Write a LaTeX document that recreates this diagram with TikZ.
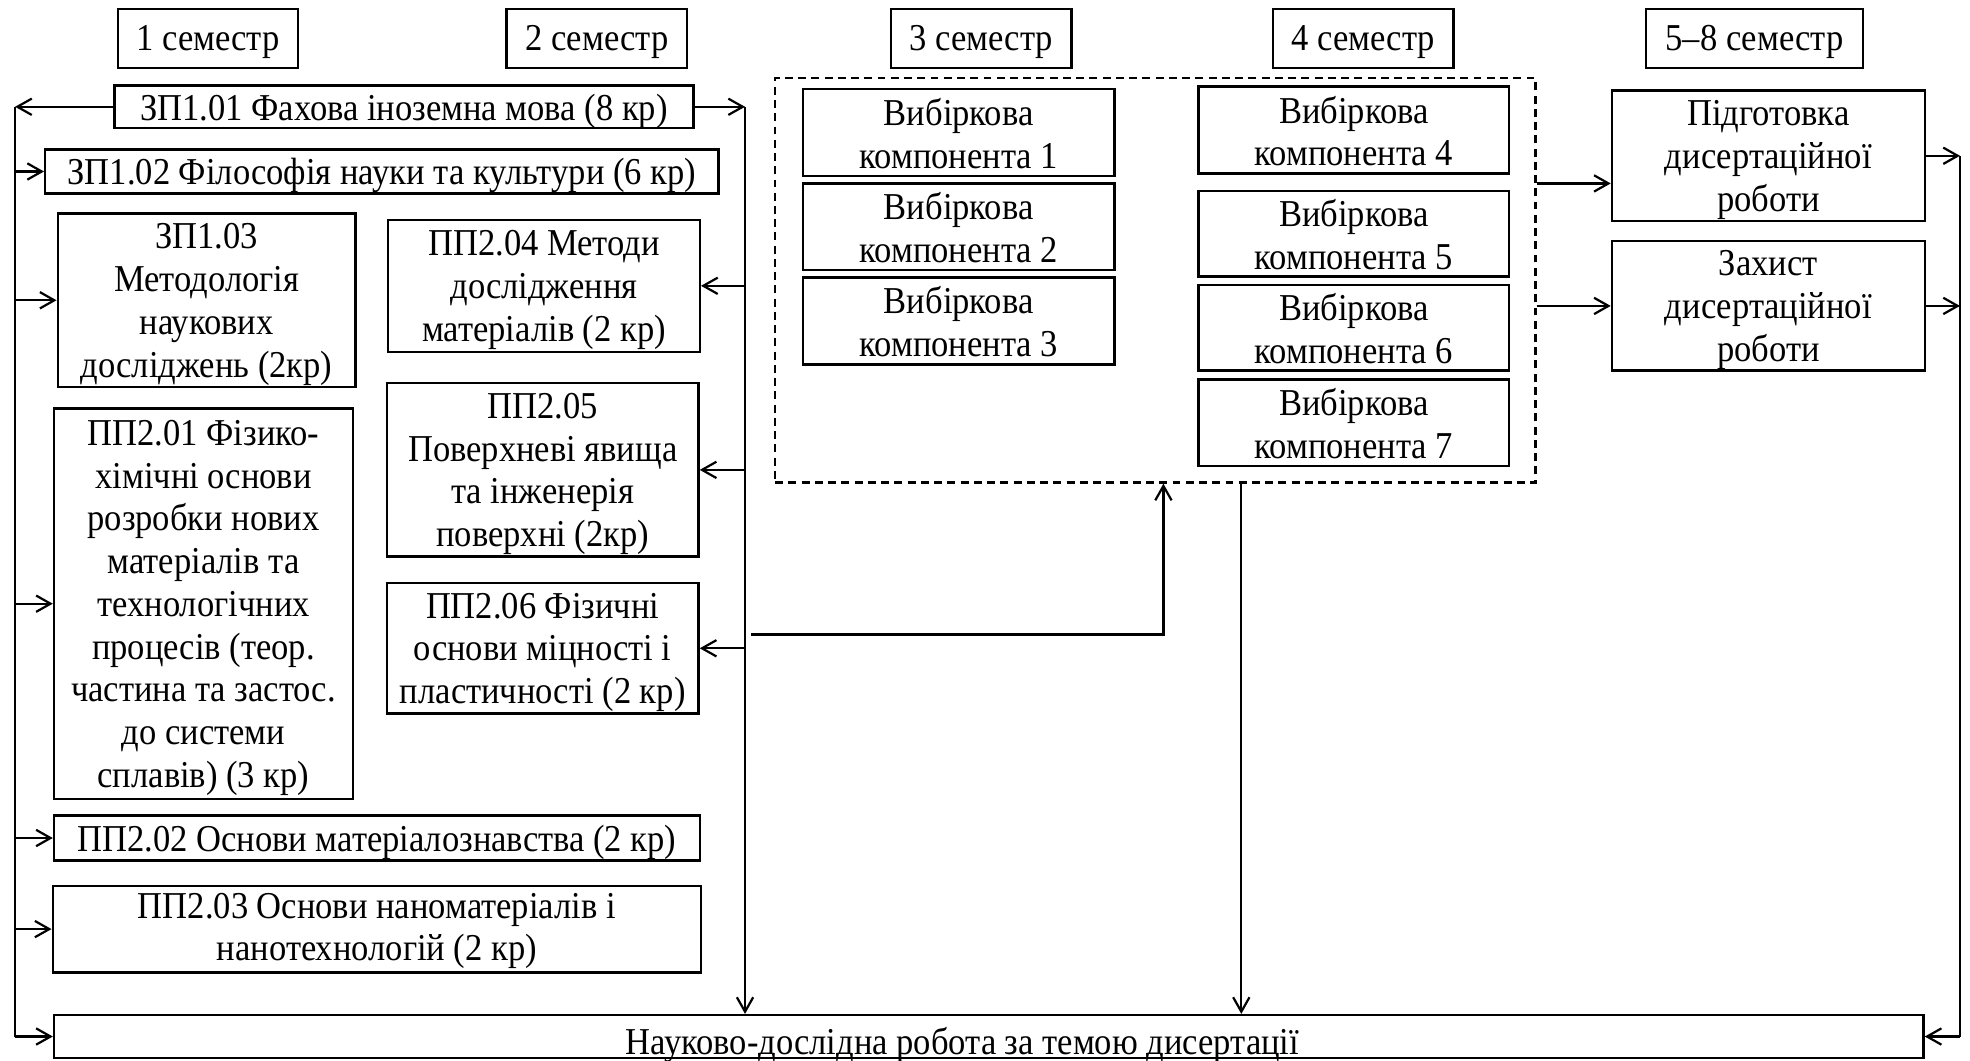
\documentclass[tikz,border=0pt]{standalone}
\usepackage{fontspec}
\setmainfont[FakeStretch=0.91]{Liberation Serif}
\usetikzlibrary{arrows.meta}
\newcommand\dfs{\fontsize{17.2}{19.35}\selectfont}
\begin{document}
\begin{tikzpicture}[x=0.02cm,y=-0.02cm,
  box/.style={draw,line width=1.1pt,inner sep=0pt},
  txt/.style={inner sep=0pt,align=center,font=\dfs},
  arr/.style={line width=1pt,-{Straight Barb[length=2.3mm,width=2.6mm]}},
  ln/.style={line width=1pt},
  dbox/.style={draw,line width=1.1pt,dash pattern=on 3.6pt off 2.4pt,inner sep=0pt}]
\useasboundingbox (0,0) rectangle (1568,844);
\newcommand\bx[7][-0.065cm]{\node[box,minimum width={(#4-#2)*0.02cm},minimum height={(#5-#3)*0.02cm}] (#6) at ({(#2+#4)/2},{(#3+#5)/2}) {};
  \node[txt] (#6t) at ([yshift=#1]#6.center) {#7};}
% semesters
\bx{94}{7}{237}{54}{s1}{1 семестр}
\bx{403}{7}{547}{54}{s2}{2 семестр}
\bx{709}{7}{853}{54}{s3}{3 семестр}
\bx{1013}{7}{1157}{54}{s4}{4 семестр}
\bx{1310}{7}{1483}{54}{s5}{5–8 семестр}
% left column
\bx{91}{68}{552}{102}{zp101}{ЗП1.01 Фахова іноземна мова (8 кр)}
\bx{36}{119}{572}{154}{zp102}{ЗП1.02 Філософія науки та культури (6 кр)}
\bx{46}{170}{283}{308}{zp103}{ЗП1.03\\Методологія\\наукових\\досліджень (2кр)}
\bx{309}{175}{557}{280}{pp204}{ПП2.04 Методи\\дослідження\\матеріалів (2 кр)}
\bx{43}{325}{281}{636}{pp201}{ПП2.01 Фізико-\\хімічні основи\\розробки нових\\матеріалів та\\технологічних\\процесів (теор.\\частина та застос.\\до системи\\сплавів) (3 кр)}
\bx{308}{305}{556}{443}{pp205}{ПП2.05\\Поверхневі явища\\та інженерія\\поверхні (2кр)}
\bx{308}{464}{556}{568}{pp206}{ПП2.06 Фізичні\\основи міцності і\\пластичності (2 кр)}
\bx{43}{649}{557}{685}{pp202}{ПП2.02 Основи матеріалознавства (2 кр)}
\bx[-0.03cm]{42}{705}{558}{774}{pp203}{ПП2.03 Основи наноматеріалів і\\нанотехнологій (2 кр)}
% elective block
\node[dbox,minimum width={605*0.02cm},minimum height={322*0.02cm}] (dash) at (919.5,223) {};
\bx[-0.015cm]{639}{71}{887}{140}{vk1}{Вибіркова\\компонента 1}
\bx[-0.015cm]{639}{146}{887}{215}{vk2}{Вибіркова\\компонента 2}
\bx[-0.015cm]{639}{221}{887}{290}{vk3}{Вибіркова\\компонента 3}
\bx[-0.015cm]{954}{69}{1201}{138}{vk4}{Вибіркова\\компонента 4}
\bx[-0.015cm]{954}{152}{1201}{220}{vk5}{Вибіркова\\компонента 5}
\bx[-0.015cm]{954}{227}{1201}{295}{vk6}{Вибіркова\\компонента 6}
\bx[-0.015cm]{954}{302}{1201}{371}{vk7}{Вибіркова\\компонента 7}
% right column
\bx{1283}{72}{1532}{176}{pd}{Підготовка\\дисертаційної\\роботи}
\bx{1283}{192}{1532}{295}{zd}{Захист\\дисертаційної\\роботи}
% bottom
\node[box,minimum width={1488*0.02cm},minimum height={34*0.02cm}] (nd) at (787,825) {};
\node[txt,anchor=base] (ndt) at (766,839) {Науково-дослідна робота за темою дисертації};
% left bus
\coordinate (lb) at (12,85);
\draw[arr] (zp101.west) -- (zp101.west -| lb);
\draw[ln] (zp101.west -| lb) -- (nd.west -| lb);
\draw[arr] (nd.west -| lb) -- (nd.west);
\foreach \n in {zp102,zp103,pp201,pp202,pp203}
  \draw[arr] (\n.west -| lb) -- (\n.west);
% middle bus
\coordinate (rb) at (593,85);
\draw[arr] (zp101.east) -- (zp101.east -| rb);
\draw[arr] (zp101.east -| rb) -- (nd.north -| rb);
\foreach \n in {pp204,pp205,pp206}
  \draw[arr] (\n.east -| rb) -- (\n.east);
% to elective block
\coordinate (c1) at (598,505);
\coordinate (c2) at (926,505);
\draw[arr] (c1) -- (c2) -- (c2 |- dash.south);
\coordinate (c3) at (988,0);
\draw[arr] (c3 |- dash.south) -- (c3 |- nd.north);
% to right column
\coordinate (a1) at (0,146);
\draw[arr] (dash.east |- a1) -- (pd.west |- a1);
\draw[arr] (dash.east |- zd.west) -- (zd.west);
% far right bus
\coordinate (fr) at (1560,0);
\draw[arr] (pd.east) -- (pd.east -| fr);
\draw[arr] (zd.east) -- (zd.east -| fr);
\draw[ln] (pd.east -| fr) -- (nd.east -| fr);
\draw[arr] (nd.east -| fr) -- (nd.east);
\end{tikzpicture}
\end{document}
